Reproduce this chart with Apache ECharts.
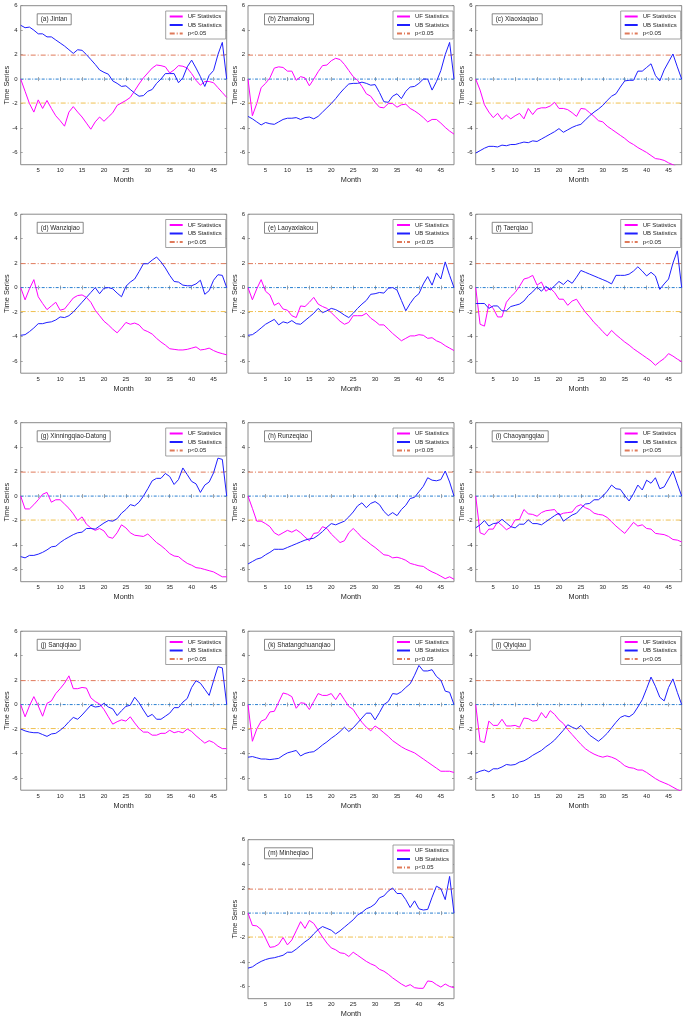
<!DOCTYPE html>
<html><head><meta charset="utf-8">
<script src="https://cdn.jsdelivr.net/npm/echarts@6/dist/echarts.min.js"></script>
<style>html,body{margin:0;padding:0;background:#fff}#c{width:685px;height:1020px}</style>
</head><body><div id="c"></div>
<script>
const months = [1,2,3,4,5,6,7,8,9,10,11,12,13,14,15,16,17,18,19,20,21,22,23,24,25,26,27,28,29,30,31,32,33,34,35,36,37,38,39,40,41,42,43,44,45,46,47,48];
const xTicks = [5,10,15,20,25,30,35,40,45];
const yTicks = [-6,-4,-2,0,2,4,6];
const yRange = [-7, 6];
const critical = 1.96;
const stations = ['(a) Jintan','(b) Zhamalong','(c) Xiaoxiaqiao','(d) Wanziqiao','(e) Laoyaxiakou','(f) Taerqiao','(g) Xinningqiao-Datong','(h) Runzeqiao','(i) Chaoyangqiao','(j) Sanqiqiao','(k) Shatangchuanqiao','(l) Qiyiqiao','(m) Minheqiao'];

const ufA = [0,-1.0,-2.0,-2.7,-1.7,-2.4,-1.75,-2.4,-3.0,-3.4,-3.85,-2.7,-2.25,-2.7,-3.1,-3.6,-4.1,-3.5,-3.1,-3.45,-3.1,-2.75,-2.15,-1.95,-1.75,-1.5,-0.95,-0.4,0.1,0.5,0.9,1.15,1.1,1.0,0.5,0.75,1.1,1.05,0.9,0.45,-0.1,-0.5,-0.2,-0.2,-0.3,-0.7,-1.1,-1.5];
const ubA = [4.4,4.2,4.25,4.0,3.7,3.7,3.45,3.45,3.2,2.95,2.7,2.4,2.1,2.4,2.35,2.0,1.6,1.2,0.75,0.55,0.4,-0.15,-0.35,-0.6,-0.55,-0.85,-1.15,-1.4,-1.35,-1.0,-0.85,-0.35,0.0,0.45,0.45,0.45,-0.3,0.1,1.0,1.55,0.9,0.2,-0.6,0.3,0.7,2.0,3.0,0.0];
const ufB = [0,-3.0,-2.0,-0.7,-0.35,0.1,0.9,1.0,0.95,0.65,0.65,-0.1,0.2,0.1,-0.55,0.0,0.6,1.1,1.15,1.5,1.7,1.6,1.2,0.7,0.2,-0.1,-0.6,-1.2,-1.4,-1.9,-2.3,-2.35,-2.0,-2.0,-2.3,-2.1,-2.05,-2.4,-2.6,-2.85,-3.15,-3.5,-3.3,-3.3,-3.6,-3.95,-4.25,-4.5];
const ubB = [-3.05,-3.25,-3.5,-3.75,-3.55,-3.65,-3.7,-3.5,-3.3,-3.2,-3.2,-3.15,-3.3,-3.15,-3.1,-3.25,-3.05,-2.7,-2.35,-2.0,-1.6,-1.15,-0.75,-0.4,-0.35,-0.35,-0.25,-0.35,-0.5,-0.45,-1.1,-1.85,-1.9,-1.4,-1.2,-1.6,-1.0,-0.65,-0.6,-0.35,0.0,0.0,-0.9,-0.2,0.7,2.0,3.0,0.0];
const ufC = [0,-0.9,-2.1,-2.7,-3.15,-2.8,-3.3,-2.95,-3.25,-3.0,-2.8,-3.25,-2.4,-2.9,-2.45,-2.35,-2.35,-2.2,-1.9,-2.4,-2.4,-2.5,-2.75,-3.05,-2.4,-2.45,-2.75,-3.05,-3.4,-3.5,-3.85,-4.1,-4.35,-4.6,-4.85,-5.15,-5.35,-5.6,-5.8,-6.0,-6.25,-6.5,-6.55,-6.65,-6.85,-7.0,-7.2,-7.4];
const ubC = [-6.05,-5.85,-5.65,-5.5,-5.5,-5.55,-5.4,-5.45,-5.35,-5.35,-5.25,-5.15,-5.2,-5.05,-5.1,-4.9,-4.7,-4.5,-4.3,-4.05,-4.35,-4.15,-3.95,-3.8,-3.7,-3.35,-3.0,-2.7,-2.45,-2.15,-1.75,-1.4,-1.2,-0.65,-0.15,-0.1,-0.1,0.65,0.65,0.95,1.25,0.3,-0.15,0.75,1.4,2.05,1.0,0.0];
const ufD = [0,-1.0,-0.1,0.65,-0.75,-1.3,-1.8,-1.5,-1.2,-1.85,-1.75,-1.3,-0.85,-0.65,-0.6,-0.8,-1.2,-1.85,-2.3,-2.75,-3.05,-3.4,-3.7,-3.3,-2.85,-3.0,-2.9,-3.05,-3.45,-3.6,-3.8,-4.15,-4.45,-4.7,-5.0,-5.05,-5.1,-5.1,-5.05,-4.95,-4.85,-5.1,-5.05,-4.95,-5.15,-5.3,-5.4,-5.5];
const ubD = [-3.9,-3.85,-3.6,-3.3,-2.95,-2.95,-2.85,-2.8,-2.65,-2.4,-2.45,-2.3,-2.0,-1.6,-1.2,-0.8,-0.4,0.0,-0.5,-0.05,0.0,-0.1,-0.45,-0.75,0.1,0.45,0.7,1.3,1.95,1.95,2.25,2.5,2.1,1.6,1.0,0.5,0.45,0.2,0.15,0.15,0.3,0.6,-0.55,-0.25,0.6,1.05,1.0,0.0];
const ufE = [0,-1.0,-0.1,0.65,-0.3,-0.6,-1.45,-1.25,-1.75,-1.85,-2.3,-2.45,-1.5,-1.55,-1.2,-0.8,-1.35,-1.55,-1.7,-2.05,-2.4,-2.75,-3.0,-2.85,-2.3,-2.3,-2.3,-2.1,-2.5,-2.75,-3.05,-3.05,-3.4,-3.75,-4.05,-4.35,-4.15,-3.95,-3.95,-3.85,-3.9,-4.15,-4.1,-4.35,-4.5,-4.75,-4.95,-5.15];
const ubE = [-3.9,-3.85,-3.6,-3.3,-3.0,-2.8,-2.6,-3.05,-2.8,-2.9,-2.7,-2.95,-3.0,-2.7,-2.4,-2.1,-1.7,-2.05,-1.9,-1.7,-1.8,-2.0,-2.25,-2.45,-2.1,-1.7,-1.35,-1.05,-0.55,-0.5,-0.4,-0.45,-0.05,0.0,-0.2,-1.05,-1.9,-1.3,-0.8,-0.5,0.3,0.9,0.2,1.2,0.7,2.1,1.0,0.0];
const ufF = [0,-3.0,-3.15,-1.35,-1.7,-2.4,-2.4,-1.2,-0.75,-0.4,0.1,0.7,0.8,1.0,0.2,0.45,-0.3,-0.05,-0.4,-0.95,-0.95,-1.45,-1.1,-0.95,-1.5,-2.0,-2.4,-2.85,-3.2,-3.6,-3.95,-3.5,-3.85,-4.15,-4.45,-4.7,-5.0,-5.25,-5.5,-5.75,-6.0,-6.35,-6.05,-5.8,-5.4,-5.6,-5.85,-6.05];
const ubF = [-1.3,-1.3,-1.3,-1.7,-1.5,-1.5,-1.9,-1.9,-1.55,-1.45,-1.35,-1.1,-0.65,-0.35,0.05,-0.3,0.1,-0.2,0.15,0.5,0.25,0.6,0.35,0.85,1.4,1.25,1.1,0.95,0.8,0.65,0.5,0.3,1.0,1.0,1.0,1.1,1.35,1.7,1.35,0.95,1.25,0.95,-0.15,0.3,0.7,2.0,3.0,0.0];
const ufG = [0,-1.05,-1.05,-0.7,-0.3,0.15,0.3,-0.5,-0.3,-0.3,-0.65,-1.0,-1.45,-2.0,-1.7,-2.3,-2.6,-2.8,-2.65,-2.85,-3.35,-3.45,-3.0,-2.35,-2.6,-3.0,-3.2,-3.25,-3.3,-3.1,-3.45,-3.8,-4.05,-4.35,-4.7,-4.9,-4.95,-5.25,-5.5,-5.65,-5.85,-5.9,-6.0,-6.1,-6.2,-6.4,-6.6,-6.6];
const ubG = [-4.95,-5.05,-4.85,-4.85,-4.75,-4.6,-4.4,-4.15,-4.1,-3.8,-3.55,-3.35,-3.15,-3.0,-2.95,-2.65,-2.65,-2.7,-2.45,-2.2,-2.0,-2.05,-1.85,-1.4,-1.1,-0.7,-0.8,-0.5,0.0,0.6,1.25,1.45,1.45,1.85,1.6,0.95,1.35,2.3,1.75,1.2,1.0,0.3,0.9,1.15,1.9,3.1,3.0,0.0];
const ufH = [0,-1.0,-2.05,-2.05,-2.25,-2.5,-3.0,-3.2,-3.0,-2.8,-2.95,-2.75,-3.0,-3.35,-3.65,-3.05,-3.0,-2.5,-2.65,-3.1,-3.45,-3.8,-3.65,-3.0,-2.65,-3.0,-3.4,-3.65,-3.95,-4.2,-4.5,-4.8,-4.85,-5.05,-5.0,-5.1,-5.25,-5.5,-5.6,-5.7,-5.75,-6.0,-6.2,-6.35,-6.55,-6.75,-6.6,-6.8];
const ubH = [-5.55,-5.35,-5.15,-5.05,-4.8,-4.6,-4.35,-4.35,-4.35,-4.2,-4.05,-3.9,-3.75,-3.6,-3.5,-3.45,-3.2,-2.9,-2.55,-2.25,-2.35,-2.2,-2.05,-1.7,-1.3,-0.8,-0.55,-0.95,-0.6,-0.45,-0.7,-1.25,-1.6,-1.35,-1.6,-1.1,-0.75,-0.2,-0.1,0.35,0.8,1.5,1.3,1.25,1.35,2.05,1.15,0.0];
const ufI = [0,-3.0,-3.15,-2.7,-2.7,-2.1,-2.4,-2.75,-2.55,-1.95,-1.9,-1.1,-1.45,-1.5,-1.65,-1.35,-1.2,-1.15,-1.1,-1.55,-1.4,-1.35,-1.3,-0.85,-0.7,-0.95,-1.1,-1.4,-1.5,-1.55,-1.75,-2.1,-2.45,-2.75,-3.05,-2.6,-2.15,-2.45,-2.35,-2.65,-2.7,-3.05,-3.1,-3.15,-3.3,-3.55,-3.6,-3.75];
const ubI = [-2.6,-2.35,-2.0,-2.45,-2.25,-2.2,-1.9,-2.2,-2.5,-2.6,-2.3,-2.3,-1.95,-2.25,-2.25,-2.35,-2.1,-1.85,-1.6,-1.4,-2.05,-1.8,-1.55,-1.4,-1.0,-0.65,-0.6,-0.3,-0.3,0.0,0.4,0.9,0.6,0.55,0.05,-0.4,0.2,0.9,0.5,1.3,1.05,1.5,0.6,0.75,1.4,2.05,1.0,0.0];
const ufJ = [0,-1.0,-0.1,0.65,-0.1,-0.95,0.1,0.3,0.9,1.3,1.75,2.35,1.3,1.3,1.4,1.35,0.55,0.25,0.05,-0.4,-1.0,-1.6,-1.4,-1.25,-1.35,-1.0,-1.5,-1.95,-2.25,-2.25,-2.5,-2.5,-2.35,-2.35,-2.1,-2.3,-2.2,-2.3,-2.0,-2.2,-2.55,-2.85,-3.15,-2.95,-3.1,-3.4,-3.6,-3.6];
const ubJ = [-2.0,-2.15,-2.25,-2.3,-2.3,-2.45,-2.6,-2.4,-2.35,-2.1,-1.8,-1.4,-1.05,-1.2,-0.85,-0.45,-0.05,-0.2,-0.15,0.1,-0.2,-0.35,-0.9,-0.5,-0.15,-0.05,0.6,0.15,-0.45,-1.0,-0.8,-1.2,-1.2,-0.95,-0.7,-0.25,-0.25,0.2,0.5,1.4,1.95,1.75,1.25,0.75,1.95,3.1,3.0,0.0];
const ufK = [0,-3.0,-2.0,-1.35,-1.2,-0.6,-0.55,0.2,0.95,0.85,0.65,-0.3,0.15,0.1,-0.4,0.25,0.9,0.75,0.75,0.9,0.4,0.95,0.4,-0.15,-0.4,-0.95,-1.45,-1.85,-2.15,-1.75,-2.0,-2.3,-2.6,-2.95,-3.2,-3.45,-3.65,-3.8,-3.95,-4.2,-4.45,-4.7,-4.95,-5.2,-5.45,-5.45,-5.45,-5.55];
const ubK = [-4.3,-4.25,-4.35,-4.45,-4.45,-4.5,-4.45,-4.4,-4.15,-3.95,-3.85,-3.75,-4.2,-4.0,-3.9,-3.85,-3.6,-3.3,-3.05,-2.75,-2.5,-2.2,-1.85,-2.2,-1.9,-1.5,-1.1,-0.7,-0.7,-1.25,-0.65,0.0,0.25,0.9,0.85,1.05,1.4,1.7,2.4,3.2,2.75,2.75,2.85,2.3,2.0,1.1,1.0,0.0];
const ufL = [0,-3.0,-3.1,-1.35,-1.7,-1.7,-1.2,-1.75,-1.75,-1.7,-1.85,-1.1,-1.15,-1.35,-1.3,-0.65,-1.1,-0.5,-0.8,-1.25,-1.55,-2.05,-2.45,-2.85,-3.25,-3.6,-3.85,-4.05,-4.2,-4.3,-4.2,-4.3,-4.45,-4.7,-5.0,-5.15,-5.2,-5.35,-5.35,-5.55,-5.8,-6.05,-6.25,-6.4,-6.55,-6.75,-6.95,-7.1];
const ubL = [-5.6,-5.45,-5.35,-5.5,-5.25,-5.25,-5.1,-4.9,-4.95,-4.9,-4.7,-4.6,-4.4,-4.15,-3.95,-3.75,-3.45,-3.2,-2.9,-2.5,-2.1,-1.65,-1.85,-2.0,-1.7,-2.1,-2.5,-2.75,-3.0,-2.7,-2.35,-1.9,-1.45,-1.05,-0.9,-1.0,-0.75,-0.2,0.4,1.3,2.25,1.5,0.6,0.3,1.4,2.1,1.0,0.0];
const ufM = [0,-1.0,-1.05,-1.35,-2.05,-2.8,-2.75,-2.55,-2.0,-2.6,-2.2,-1.45,-0.7,-1.25,-0.6,-0.85,-1.4,-1.95,-2.45,-2.85,-3.0,-3.25,-3.3,-3.55,-3.2,-3.45,-3.7,-3.95,-4.15,-4.3,-4.6,-4.75,-5.0,-5.3,-5.55,-5.8,-6.0,-5.85,-6.1,-6.15,-6.15,-5.55,-5.6,-5.85,-6.05,-5.8,-6.0,-6.1];
const ubM = [-4.5,-4.4,-4.15,-3.95,-3.8,-3.7,-3.65,-3.55,-3.45,-3.2,-3.2,-2.95,-2.65,-2.35,-2.1,-1.7,-1.35,-1.1,-1.25,-1.4,-1.7,-1.45,-1.15,-0.85,-0.55,-0.15,0.05,0.35,0.5,0.75,1.25,1.4,1.8,2.05,1.6,1.6,1.1,0.45,1.0,0.35,0.25,0.3,1.3,2.2,2.0,1.1,3.0,0.0];

const ufAll = [ufA,ufB,ufC,ufD,ufE,ufF,ufG,ufH,ufI,ufJ,ufK,ufL,ufM];
const ubAll = [ubA,ubB,ubC,ubD,ubE,ubF,ubG,ubH,ubI,ubJ,ubK,ubL,ubM];

// layout (pixels)
const colLeft = [20.7, 248, 475.7];
const rowTop = [5.7, 214.2, 422.7, 631.2, 839.7];
const plotW = 206, plotH = 159;
const cells = [[0,0],[0,1],[0,2],[1,0],[1,1],[1,2],[2,0],[2,1],[2,2],[3,0],[3,1],[3,2],[4,1]];

const FONT = "'Liberation Sans', Arial, sans-serif";
const AX = '#8a8a8a';
const TXT = '#262626';

const grid = [], xAxis = [], yAxis = [], series = [], title = [], legend = [];
cells.forEach(([r,c], i) => {
  const L = colLeft[c], T = rowTop[r];
  grid.push({left: L, top: T, width: plotW, height: plotH, show: true, borderColor: AX, borderWidth: 1, backgroundColor: '#fff'});
  const common = {type: 'value', gridIndex: i, splitLine: {show: false}, axisLine: {show: false}};
  xAxis.push(Object.assign({}, common, {
    min: months[0], max: months[months.length-1], position: 'bottom',
    name: 'Month', nameLocation: 'middle', nameGap: 12, nameMoveOverlap: false,
    nameTextStyle: {fontSize: 7.3, color: TXT, fontFamily: FONT},
    axisTick: {show: true, inside: true, length: 2, customValues: xTicks, lineStyle: {color: AX, width: 0.8}},
    axisLabel: {customValues: xTicks, fontSize: 6, color: TXT, fontFamily: FONT, margin: 3}
  }));
  xAxis.push(Object.assign({}, common, {
    min: months[0], max: months[months.length-1], position: 'top',
    axisTick: {show: true, inside: true, length: 2, customValues: xTicks, lineStyle: {color: AX, width: 0.8}},
    axisLabel: {show: false}
  }));
  yAxis.push(Object.assign({}, common, {
    min: yRange[0], max: yRange[1], position: 'left',
    name: 'Time Series', nameLocation: 'middle', nameGap: 10, nameRotate: 90, nameMoveOverlap: false,
    nameTextStyle: {fontSize: 7.3, color: TXT, fontFamily: FONT},
    axisTick: {show: true, inside: true, length: 2, customValues: yTicks, lineStyle: {color: AX, width: 0.8}},
    axisLabel: {customValues: yTicks, fontSize: 6, color: TXT, fontFamily: FONT, margin: 3}
  }));
  yAxis.push(Object.assign({}, common, {
    min: yRange[0], max: yRange[1], position: 'right',
    axisTick: {show: true, inside: true, length: 2, customValues: yTicks, lineStyle: {color: AX, width: 0.8}},
    axisLabel: {show: false}
  }));
  const xi = 2*i, yi = 2*i;
  const hline = (v) => [[months[0], v], [months[months.length-1], v]];
  series.push({type: 'line', name: 'p<0.05', xAxisIndex: xi, yAxisIndex: yi, data: hline(critical), symbol: 'none', silent: true,
    lineStyle: {color: '#e07a5a', width: 1, type: [5,2,1,2]}, itemStyle: {color: '#e07a5a'}, z: 2});
  series.push({type: 'line', name: 'lower', xAxisIndex: xi, yAxisIndex: yi, data: hline(-critical), symbol: 'none', silent: true,
    lineStyle: {color: '#f0c050', width: 1, type: [5,2,1,2]}, z: 2});
  series.push({type: 'line', name: 'zero', xAxisIndex: xi, yAxisIndex: yi, data: hline(0), symbol: 'none', silent: true,
    lineStyle: {color: '#2a7fd0', width: 1, type: [3,1.5,1,1.5]}, z: 2});
  series.push({type: 'line', name: 'UF Statistics', xAxisIndex: xi, yAxisIndex: yi,
    data: months.map((m, k) => [m, ufAll[i][k]]), symbol: 'none', silent: true,
    lineStyle: {color: '#ff00ff', width: 1}, itemStyle: {color: '#ff00ff'}, z: 3});
  series.push({type: 'line', name: 'UB Statistics', xAxisIndex: xi, yAxisIndex: yi,
    data: months.map((m, k) => [m, ubAll[i][k]]), symbol: 'none', silent: true,
    lineStyle: {color: '#1f1fff', width: 1}, itemStyle: {color: '#1f1fff'}, z: 3});
  title.push({text: stations[i], left: L + 16, top: T + 7.6, padding: [3, 4, 3, 4],
    borderColor: '#6a6a6a', borderWidth: 0.8, backgroundColor: '#fff',
    textStyle: {fontSize: 6.4, fontWeight: 'normal', color: TXT, fontFamily: FONT}});
  legend.push({data: ['UF Statistics', 'UB Statistics', 'p<0.05'], orient: 'vertical',
    left: L + 145, top: T + 5.3, padding: [2, 4, 2, 3], itemGap: 1.5, itemWidth: 13, itemHeight: 2,
    borderColor: '#8a8a8a', borderWidth: 0.8, backgroundColor: '#fff', selectedMode: false,
    itemStyle: {opacity: 0, borderWidth: 0},
    textStyle: {fontSize: 6, color: TXT, fontFamily: FONT, lineHeight: 7}});
});

const chart = echarts.init(document.getElementById('c'), null, {renderer: 'canvas'});
chart.setOption({animation: false, backgroundColor: '#fff', grid, xAxis, yAxis, series, title, legend});
</script>
</body></html>
